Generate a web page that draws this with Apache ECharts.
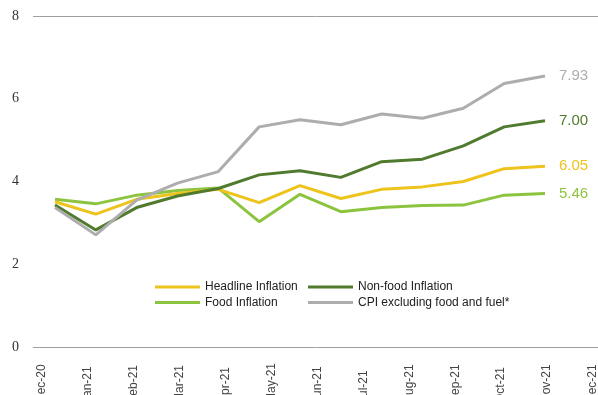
<!DOCTYPE html>
<html>
<head>
<meta charset="utf-8">
<script src="https://cdn.jsdelivr.net/npm/echarts@6/dist/echarts.min.js"></script>
<style>html,body{margin:0;padding:0;background:#fff;}#c{width:598px;height:395px;}</style>
</head>
<body>
<div id="c"></div>
<script>
var months = ['Dec-20','Jan-21','Feb-21','Mar-21','Apr-21','May-21','Jun-21','Jul-21','Aug-21','Sep-21','Oct-21','Nov-21','Dec-21'];
var headline = [3.51, 3.21, 3.57, 3.71, 3.81, 3.49, 3.90, 3.59, 3.81, 3.87, 4.00, 4.31, 4.37];
var nonFood  = [3.43, 2.83, 3.37, 3.65, 3.83, 4.16, 4.26, 4.10, 4.48, 4.54, 4.86, 5.32, 5.47];
var food     = [3.57, 3.46, 3.67, 3.78, 3.84, 3.03, 3.69, 3.27, 3.37, 3.42, 3.43, 3.67, 3.71];
var cpiEx    = [3.37, 2.71, 3.55, 3.96, 4.24, 5.32, 5.49, 5.37, 5.63, 5.53, 5.77, 6.37, 6.55];
var endLabels = {headline: '6.05', nonFood: '7.00', food: '5.46', cpiEx: '7.93'};
var yTicks = [0, 2, 4, 6, 8];

var colors = {headline: '#EDC31C', nonFood: '#507A2E', food: '#8DC43F', cpiEx: '#ADADAD'};

function mk(name, data, key) {
  return {
    name: name, type: 'line', data: data, xAxisIndex: 0, yAxisIndex: 0,
    symbol: 'none', smooth: false,
    lineStyle: {width: 3, color: colors[key]},
    itemStyle: {color: colors[key]},
    endLabel: {show: true, formatter: function(){ return endLabels[key]; }, color: colors[key],
      fontSize: 15, fontFamily: 'Liberation Sans', distance: 14},
    emphasis: {disabled: true}
  };
}

var chart = echarts.init(document.getElementById('c'), null, {renderer: 'canvas'});
chart.setOption({
  animation: false,
  title: {text: '(y-o-y, per cent)', right: 76, top: -19,
    textStyle: {fontSize: 14, fontWeight: 'bold', color: '#222', fontFamily: 'Liberation Sans'}},
  grid: [
    {left: 55, right: 53, top: 16, bottom: 48, outerBoundsMode: 'none', containLabel: false},
    {left: 33, right: 0, top: 16, bottom: 48, outerBoundsMode: 'none', containLabel: false},
    {left: 42, right: 5, top: 16, bottom: 48, outerBoundsMode: 'none', containLabel: false}
  ],
  xAxis: [
    {gridIndex: 0, type: 'category', boundaryGap: false, data: months, show: false},
    {gridIndex: 1, type: 'category', boundaryGap: false, data: months, show: false},
    {gridIndex: 2, type: 'category', boundaryGap: false, data: months,
      axisLine: {show: false}, axisTick: {show: false},
      axisLabel: {interval: 0, rotate: 90, align: 'left', verticalAlign: 'middle', margin: 56,
        fontSize: 12, color: '#444', fontFamily: 'Liberation Sans'}}
  ],
  yAxis: [
    {gridIndex: 0, type: 'value', min: 0, max: 8, interval: 2,
      axisLine: {show: false}, axisTick: {show: false}, splitLine: {show: false},
      axisLabel: {margin: 36, fontSize: 14, color: '#333', fontFamily: 'Liberation Serif',
        formatter: function(v){ return yTicks.indexOf(v) >= 0 ? String(v) : ''; }}},
    {gridIndex: 1, type: 'value', min: 0, max: 8, interval: 8,
      axisLine: {show: false}, axisTick: {show: false}, axisLabel: {show: false},
      splitLine: {show: true, lineStyle: {color: '#A0A0A0', width: 1}}},
    {gridIndex: 2, type: 'value', min: 0, max: 8, show: false, splitLine: {show: false}}
  ],
  legend: [
    {data: ['Headline Inflation', 'Food Inflation'], orient: 'vertical', left: 155, top: 280,
      padding: 0, itemGap: 1.6, itemWidth: 45, itemHeight: 3, icon: 'rect',
      textStyle: {fontSize: 12, lineHeight: 14, color: '#222', fontFamily: 'Liberation Sans'}},
    {data: ['Non-food Inflation', 'CPI excluding food and fuel*'], orient: 'vertical', left: 308, top: 280,
      padding: 0, itemGap: 1.6, itemWidth: 45, itemHeight: 3, icon: 'rect',
      textStyle: {fontSize: 12, lineHeight: 14, color: '#222', fontFamily: 'Liberation Sans'}}
  ],
  series: [
    mk('Food Inflation', food, 'food'),
    mk('Headline Inflation', headline, 'headline'),
    mk('Non-food Inflation', nonFood, 'nonFood'),
    mk('CPI excluding food and fuel*', cpiEx, 'cpiEx')
  ]
});
</script>
</body>
</html>
